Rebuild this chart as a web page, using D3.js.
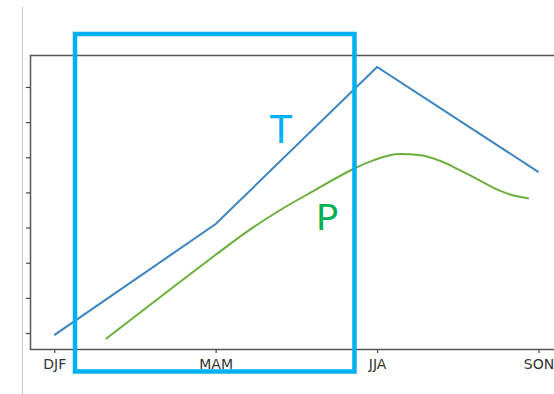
<!DOCTYPE html>
<html>
<head>
<meta charset="utf-8">
<script src="https://cdn.jsdelivr.net/npm/d3@7"></script>
<style>
  html, body { margin: 0; padding: 0; background: #fff; }
  svg { display: block; }
</style>
</head>
<body>
<div class="chart"></div>
<script>
(function() {
	var width = 554,
		height = 394;

	// seasons on the x axis
	var seasons = ["DJF", "MAM", "JJA", "SON"];
	var yTicks = [1, 2, 3, 4, 5, 6, 7, 8];

	// T: one value per season
	var tempValues = [0.94, 4.10, 8.57, 5.58];

	// P: smooth curve, [season position, value]
	var precipX = [0.32, 0.78, 0.99, 1.19, 1.40, 1.61, 1.85, 1.98, 2.14, 2.27, 2.39, 2.51, 2.64, 2.76, 2.84, 2.94];
	var precipY = [0.83, 2.46, 3.19, 3.87, 4.50, 5.05, 5.66, 5.92, 6.09, 6.06, 5.90, 5.64, 5.33, 5.05, 4.92, 4.83];

	var left = 30, top = 55, bottom = 349;

	var x = d3.scaleLinear()
		.domain([-0.15, 3.15])
		.range([left, 54 + 3.15 * 161.5]);

	var y = d3.scaleLinear()
		.domain([0.545, 8.91])
		.range([bottom, top]);

	var svg = d3.select(".chart").append("svg")
		.attr("width", width)
		.attr("height", height);

	// thin grey rule at the far left
	svg.append("line")
		.attr("x1", 22.5).attr("x2", 22.5)
		.attr("y1", 7).attr("y2", height)
		.style("stroke", "#c8c8c8")
		.style("stroke-width", 1);

	// axes
	var xAxis = d3.axisBottom(x)
		.tickValues(d3.range(seasons.length))
		.tickFormat(function(i) { return seasons[i]; })
		.tickSize(4)
		.tickPadding(6);

	var yAxis = d3.axisLeft(y)
		.tickValues(yTicks)
		.tickFormat("")
		.tickSize(4);

	var gx = svg.append("g")
		.attr("transform", "translate(0," + bottom + ")")
		.call(xAxis);
	var gy = svg.append("g")
		.attr("transform", "translate(" + left + ",0)")
		.call(yAxis);

	[gx, gy].forEach(function(g) {
		g.select(".domain").remove();
		g.selectAll(".tick line").style("stroke", "#444").style("stroke-width", 1.2);
		g.selectAll(".tick text")
			.style("font-family", "DejaVu Sans")
			.style("font-size", "14px")
			.style("fill", "#333");
	});

	// spines: left, top, bottom (right one falls outside the picture)
	var xr = x.range()[1];
	svg.append("path")
		.attr("d", "M" + xr + "," + (top + 0.5) + "H" + (left + 0.5) + "V" + (bottom + 0.5) + "H" + xr)
		.style("fill", "none")
		.style("stroke", "#555")
		.style("stroke-width", 1.5);

	// T line
	var line = d3.line()
		.x(function(d, i) { return x(i); })
		.y(function(d) { return y(d); });

	svg.append("path")
		.datum(tempValues)
		.attr("d", line)
		.style("fill", "none")
		.style("stroke", "#3a84c1")
		.style("stroke-width", 2);

	// P curve
	var curve = d3.line()
		.x(function(d) { return x(d[0]); })
		.y(function(d) { return y(d[1]); })
		.curve(d3.curveMonotoneX);

	svg.append("path")
		.datum(d3.zip(precipX, precipY))
		.attr("d", curve)
		.style("fill", "none")
		.style("stroke", "#6aaf3d")
		.style("stroke-width", 2);

	// labels
	svg.append("text")
		.attr("x", 281).attr("y", 143)
		.attr("text-anchor", "middle")
		.style("font-family", "Lato")
		.style("font-size", "39px")
		.style("fill", "#00b0f0")
		.text("T");

	svg.append("text")
		.attr("x", 327).attr("y", 230)
		.attr("text-anchor", "middle")
		.style("font-family", "Lato")
		.style("font-size", "37px")
		.style("fill", "#00b050")
		.text("P");

	// highlight box
	svg.append("rect")
		.attr("x", 75).attr("y", 34)
		.attr("width", 354.5 - 75)
		.attr("height", 371.5 - 34)
		.style("fill", "none")
		.style("stroke", "#00b0f0")
		.style("stroke-width", 4.5);
})();
</script>
</body>
</html>
